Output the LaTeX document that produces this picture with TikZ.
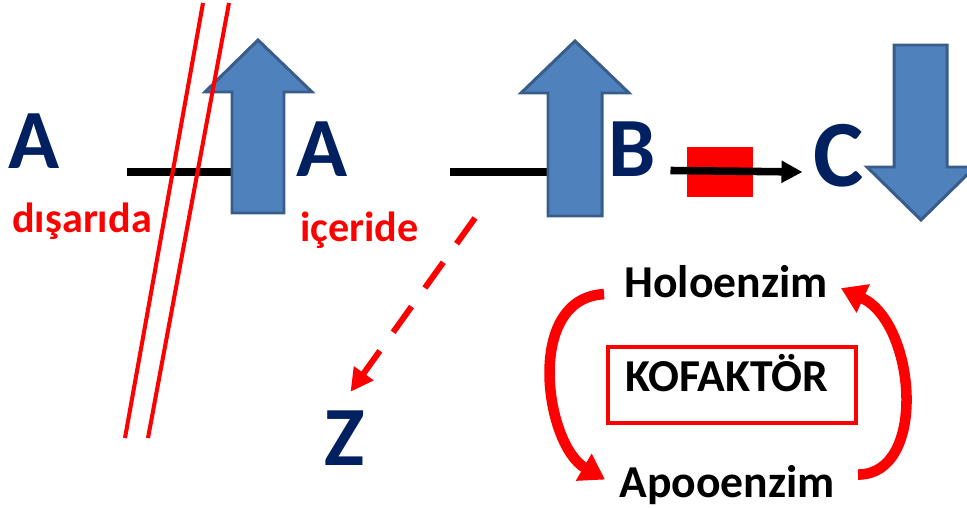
\documentclass[tikz,border=0pt]{standalone}
\usepackage{fontspec}
\setmainfont{Carlito}
\usetikzlibrary{arrows.meta}
\definecolor{lacivert}{HTML}{002060}
\definecolor{okmavi}{HTML}{4F81BD}
\definecolor{okkenar}{HTML}{385D8A}
\begin{document}
\begin{tikzpicture}[x=0.02cm,y=-0.02cm,
    harf/.style={text=lacivert,font=\fontsize{48}{48}\selectfont\bfseries,inner sep=0pt},
    kirmizi/.style={text=red,font=\fontsize{24}{24}\selectfont\bfseries,inner sep=0pt},
    yazi/.style={font=\fontsize{26}{26}\selectfont\bfseries,inner sep=0pt},
    blok/.style={fill=okmavi,draw=okkenar,line width=1.7pt},
    zar/.style={red,line width=2.3pt},
    bag/.style={line width=4.3pt},
    donus/.style={red,line width=6pt,-{Triangle[length=14pt,width=17pt]}}]
    \clip (0,0) rectangle (967,509);
    % harfler
    \node[harf] (Adis) at (34,141.5) {A};
    \node[harf] (Aic) at (322,149) {A};
    \node[harf] (B) at (632.5,149.5) {B};
    \node[harf,font=\fontsize{54}{54}\selectfont\bfseries] (C) at (839,156) {C};
    \node[harf] (Z) at (344.5,438.5) {Z};
    \node[kirmizi,anchor=base west] (disari) at (12,233) {dışarıda};
    \node[kirmizi,anchor=base west] (iceri) at (300,242) {içeride};
    % zincir
    \draw[bag] (127,172) -- (232,172);
    \draw[bag] (450,172) -- (548,172);
    \draw[blok] (232,213) -- (232,92) -- (205,92) -- (258,40) -- (312,92) -- (284,92) -- (284,213) -- cycle;
    \draw[blok] (548,216) -- (548,93) -- (521,93) -- (575,41) -- (629,93) -- (602,93) -- (602,216) -- cycle;
    \draw[blok] (894,45) -- (894,167) -- (867,167) -- (921,220) -- (975,167) -- (947,167) -- (947,45) -- cycle;
    % zar
    \draw[zar] (203,3) -- (125,438);
    \draw[zar] (229,3) -- (148,438);
    % engel
    \fill[red] (687,147) rectangle (753,197);
    \draw[bag,-{Triangle[length=12pt,width=12pt]}] ([shift={(14,21)}]B.east) -- ([shift={(-11,16)}]C.west);
    \coordinate (dal) at (475,218);
    \draw[red,line width=3.4pt,dash pattern=on 18pt off 13pt,-{Triangle[length=13pt,width=13pt]}]
        (dal) -- ([shift={(6,-19)}]Z.north);
    % kofaktor dongusu
    \node[yazi,anchor=base] (holo) at (726,298) {Holoenzim};
    \node[yazi,anchor=base] (apo) at (727,498) {Apooenzim};
    \node[draw=red,line width=2.2pt,minimum width=141pt,minimum height=43pt] (kutu) at (732,385) {};
    \node[yazi,anchor=base] (kof) at (727,392) {KOFAKTÖR};
    \draw[donus] ([shift={(-20,12)}]holo.west) .. controls +(-80,4) and +(-60,-35) .. ([shift={(-14,-6)}]apo.west);
    \draw[donus] ([shift={(23,-11)}]apo.east) .. controls +(70,0) and +(75,35) .. ([shift={(13,6)}]holo.east);
\end{tikzpicture}
\end{document}
